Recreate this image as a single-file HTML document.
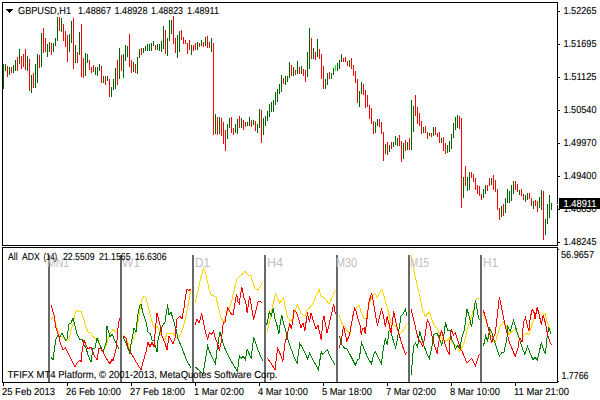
<!DOCTYPE html><html><head><meta charset="utf-8"><style>
html,body{margin:0;padding:0;background:#fff;width:600px;height:400px;overflow:hidden}
svg{display:block}
text{font-family:"Liberation Sans", sans-serif;fill:#000;text-rendering:geometricPrecision}
</style></head><body>
<svg width="600" height="400" viewBox="0 0 600 400">
<rect x="0" y="0" width="600" height="400" fill="#fff"/>
<g shape-rendering="crispEdges">
<path fill="#006400" d="M3 64h1v25h-1zM5 64h1v7h-1zM9 67h1v8h-1zM13 65h1v8h-1zM15 60h1v11h-1zM19 49h1v15h-1zM27 56h1v15h-1zM31 75h1v18h-1zM35 64h1v24h-1zM37 54h1v29h-1zM41 33h1v34h-1zM47 44h1v13h-1zM49 42h1v10h-1zM53 43h1v9h-1zM55 38h1v8h-1zM57 17h1v24h-1zM61 18h1v14h-1zM69 34h1v18h-1zM71 21h1v22h-1zM75 45h1v18h-1zM79 32h1v23h-1zM85 53h1v23h-1zM87 54h1v9h-1zM95 67h1v8h-1zM97 67h1v9h-1zM99 64h1v7h-1zM103 76h1v7h-1zM107 76h1v5h-1zM111 87h1v10h-1zM113 79h1v11h-1zM115 68h1v21h-1zM119 48h1v31h-1zM123 54h1v24h-1zM125 45h1v16h-1zM127 46h1v11h-1zM133 62h1v10h-1zM137 57h1v17h-1zM139 49h1v9h-1zM143 48h1v5h-1zM145 46h1v5h-1zM147 44h1v7h-1zM149 44h1v7h-1zM151 43h1v8h-1zM153 41h1v5h-1zM157 44h1v6h-1zM159 44h1v7h-1zM161 41h1v11h-1zM163 26h1v23h-1zM167 38h1v18h-1zM169 20h1v21h-1zM171 20h1v14h-1zM177 35h1v23h-1zM179 31h1v21h-1zM191 45h1v10h-1zM197 42h1v8h-1zM201 40h1v6h-1zM205 37h1v9h-1zM211 38h1v14h-1zM215 114h1v20h-1zM219 117h1v17h-1zM227 124h1v15h-1zM229 118h1v10h-1zM235 124h1v9h-1zM237 119h1v15h-1zM241 118h1v10h-1zM247 122h1v4h-1zM249 117h1v9h-1zM253 120h1v5h-1zM257 124h1v9h-1zM259 109h1v19h-1zM263 118h1v17h-1zM265 116h1v10h-1zM267 111h1v10h-1zM269 104h1v13h-1zM271 102h1v10h-1zM273 100h1v12h-1zM275 92h1v13h-1zM277 89h1v13h-1zM279 84h1v10h-1zM281 75h1v17h-1zM285 76h1v9h-1zM287 76h1v6h-1zM289 62h1v16h-1zM293 67h1v9h-1zM297 61h1v13h-1zM301 66h1v8h-1zM307 52h1v25h-1zM309 28h1v41h-1zM313 48h1v11h-1zM317 39h1v18h-1zM325 79h1v10h-1zM327 73h1v12h-1zM331 73h1v6h-1zM333 68h1v7h-1zM337 63h1v8h-1zM339 60h1v9h-1zM341 54h1v8h-1zM349 60h1v7h-1zM359 91h1v16h-1zM361 82h1v12h-1zM375 122h1v11h-1zM377 119h1v7h-1zM385 144h1v10h-1zM389 145h1v7h-1zM393 142h1v5h-1zM395 136h1v9h-1zM397 138h1v8h-1zM403 143h1v16h-1zM407 142h1v8h-1zM411 100h1v50h-1zM413 106h1v26h-1zM423 127h1v6h-1zM429 133h1v3h-1zM433 127h1v9h-1zM441 138h1v5h-1zM447 145h1v8h-1zM449 141h1v11h-1zM451 134h1v15h-1zM453 123h1v15h-1zM455 117h1v13h-1zM457 115h1v13h-1zM463 177h1v21h-1zM467 177h1v14h-1zM469 172h1v18h-1zM483 189h1v9h-1zM485 185h1v9h-1zM491 178h1v7h-1zM501 206h1v11h-1zM505 198h1v15h-1zM507 189h1v14h-1zM509 191h1v12h-1zM511 185h1v16h-1zM513 181h1v13h-1zM519 190h1v5h-1zM525 195h1v7h-1zM527 193h1v7h-1zM533 201h1v8h-1zM539 197h1v11h-1zM541 190h1v20h-1zM545 219h1v16h-1zM547 204h1v20h-1zM549 195h1v23h-1zM551 203h1v7h-1z"/>
<path fill="#ff0000" d="M7 66h1v11h-1zM11 67h1v6h-1zM17 57h1v14h-1zM21 56h1v13h-1zM23 54h1v13h-1zM25 49h1v21h-1zM29 59h1v32h-1zM33 73h1v15h-1zM39 55h1v13h-1zM43 28h1v25h-1zM45 38h1v14h-1zM51 43h1v12h-1zM59 17h1v14h-1zM63 24h1v17h-1zM65 31h1v16h-1zM67 35h1v27h-1zM73 18h1v51h-1zM77 52h1v11h-1zM81 24h1v53h-1zM83 58h1v20h-1zM89 60h1v10h-1zM91 67h1v6h-1zM93 65h1v7h-1zM101 66h1v17h-1zM105 76h1v9h-1zM109 79h1v18h-1zM117 60h1v25h-1zM121 55h1v16h-1zM129 34h1v33h-1zM131 60h1v13h-1zM135 64h1v9h-1zM141 48h1v7h-1zM155 45h1v5h-1zM165 30h1v24h-1zM173 16h1v28h-1zM175 38h1v15h-1zM181 30h1v10h-1zM183 37h1v7h-1zM185 40h1v4h-1zM187 43h1v11h-1zM189 40h1v10h-1zM193 45h1v6h-1zM195 43h1v7h-1zM199 43h1v4h-1zM203 42h1v5h-1zM207 36h1v12h-1zM209 42h1v6h-1zM213 43h1v92h-1zM217 117h1v18h-1zM221 118h1v18h-1zM223 122h1v22h-1zM225 130h1v21h-1zM231 117h1v16h-1zM233 128h1v7h-1zM239 116h1v12h-1zM243 120h1v10h-1zM245 122h1v5h-1zM251 120h1v7h-1zM255 121h1v10h-1zM261 110h1v33h-1zM283 78h1v6h-1zM291 65h1v11h-1zM295 70h1v5h-1zM299 67h1v7h-1zM303 69h1v7h-1zM305 70h1v12h-1zM311 38h1v21h-1zM315 52h1v8h-1zM319 49h1v10h-1zM321 54h1v25h-1zM323 66h1v23h-1zM329 72h1v7h-1zM343 58h1v4h-1zM345 57h1v5h-1zM347 61h1v5h-1zM351 58h1v11h-1zM353 65h1v11h-1zM355 71h1v12h-1zM357 79h1v24h-1zM363 84h1v11h-1zM365 90h1v18h-1zM367 95h1v12h-1zM369 105h1v14h-1zM371 108h1v16h-1zM373 121h1v13h-1zM379 119h1v8h-1zM381 122h1v12h-1zM383 132h1v29h-1zM387 142h1v13h-1zM391 142h1v7h-1zM399 135h1v11h-1zM401 141h1v21h-1zM405 140h1v11h-1zM409 138h1v12h-1zM415 95h1v21h-1zM417 107h1v17h-1zM419 113h1v13h-1zM421 121h1v13h-1zM425 126h1v7h-1zM427 132h1v7h-1zM431 133h1v4h-1zM435 127h1v8h-1zM437 133h1v4h-1zM439 132h1v11h-1zM443 137h1v14h-1zM445 143h1v11h-1zM459 116h1v13h-1zM461 118h1v90h-1zM465 166h1v20h-1zM471 172h1v6h-1zM473 174h1v8h-1zM475 178h1v12h-1zM477 185h1v9h-1zM479 186h1v10h-1zM481 194h1v6h-1zM487 185h1v6h-1zM489 178h1v8h-1zM493 175h1v15h-1zM495 180h1v12h-1zM497 189h1v21h-1zM499 208h1v12h-1zM503 204h1v12h-1zM515 181h1v9h-1zM517 184h1v8h-1zM521 189h1v7h-1zM523 194h1v6h-1zM529 193h1v6h-1zM531 198h1v8h-1zM535 200h1v6h-1zM537 201h1v11h-1zM543 191h1v49h-1z"/>
<path fill="#00ff00" d="M335 65h1v6h-1z"/>
</g>
<g fill="#696969" shape-rendering="crispEdges">
<rect x="48" y="255" width="2" height="127"/>
<rect x="120" y="255" width="2" height="127"/>
<rect x="192" y="255" width="2" height="127"/>
<rect x="264" y="255" width="2" height="127"/>
<rect x="336" y="255" width="2" height="127"/>
<rect x="408" y="255" width="2" height="127"/>
<rect x="480" y="255" width="2" height="127"/>
</g>
<g fill="none" stroke-width="1" shape-rendering="crispEdges">
<polyline stroke="#ffd700" points="51.0,320.0 54.0,316.0 56.0,325.0 59.0,334.0 62.0,337.0 64.0,338.0 66.0,341.0 68.0,340.0 69.0,339.0 71.0,331.0 73.0,324.0 75.0,314.0 77.0,310.0 79.0,312.0 81.0,311.0 84.0,320.0 86.0,327.0 88.0,332.0 91.0,333.0 92.0,335.0 95.0,339.0 97.0,340.0 98.0,338.0 99.0,344.0 103.0,352.0 105.0,348.0 107.0,343.0 108.0,339.0 110.0,334.0 113.0,329.0 116.0,333.0 118.0,331.0"/>
<polyline stroke="#008000" points="51.0,357.0 53.0,360.0 54.5,348.0 56.0,339.0 58.0,335.0 60.0,337.0 62.0,333.0 64.0,337.0 65.5,340.0 67.0,339.0 69.0,324.0 71.0,323.0 73.0,318.0 75.0,326.0 77.0,334.0 80.0,340.0 82.0,339.0 84.0,345.0 86.0,348.0 88.0,355.0 91.0,362.0 93.0,348.0 95.0,348.0 97.0,338.0 99.0,343.0 103.0,352.0 106.0,343.0 107.0,326.0 110.0,337.0 112.0,334.0 115.0,341.0 116.0,343.0 119.0,349.0"/>
<polyline stroke="#ff0000" points="51.0,305.0 54.0,315.0 56.0,328.0 59.0,337.0 60.0,342.0 63.0,350.0 65.5,348.0 68.0,353.0 72.0,361.0 75.0,367.0 77.0,363.0 80.0,360.0 81.0,362.0 82.0,352.0 84.0,340.0 86.0,345.0 88.0,349.0 91.0,347.0 94.0,355.0 97.0,360.0 99.0,348.0 101.0,349.0 103.0,352.0 106.0,358.0 110.0,364.0 112.0,359.0 113.0,361.0 116.0,349.0 117.0,340.0 118.0,328.0 119.5,318.0"/>
<polyline stroke="#ffd700" points="123.0,335.0 126.0,339.0 130.0,348.0 132.0,342.0 135.0,335.0 136.0,332.0 138.0,322.0 140.0,310.0 142.0,300.0 144.0,296.0 146.0,298.0 148.0,306.0 150.5,316.0 153.0,325.0 155.0,329.0 157.0,326.0 160.0,332.0 162.0,337.0 165.0,340.0 167.0,333.0 170.0,334.0 173.0,333.0 175.0,336.0 178.0,339.0 180.0,335.0 183.0,328.0 186.0,316.0 187.2,310.0 189.0,300.0 191.0,289.0"/>
<polyline stroke="#008000" points="123.0,337.0 126.0,343.0 130.0,354.0 131.0,344.0 133.0,334.0 134.0,328.0 136.0,332.0 137.5,317.0 139.5,306.0 141.0,304.0 143.0,313.0 146.0,322.0 148.0,332.0 150.5,334.0 152.0,340.0 154.0,341.0 157.0,352.0 158.0,340.0 160.0,332.0 163.0,325.0 165.0,322.0 167.0,309.0 167.5,304.0 169.0,315.0 171.0,312.0 173.0,319.0 176.0,329.0 178.0,339.0 182.0,348.0 186.0,359.0 191.0,368.0"/>
<polyline stroke="#ff0000" points="123.0,336.0 126.0,338.0 128.0,347.0 131.0,353.0 135.0,360.0 138.0,365.0 141.0,370.0 143.0,362.0 146.0,352.0 148.0,342.0 150.0,347.0 152.0,342.0 154.0,347.0 155.0,334.0 157.0,313.0 160.0,325.0 162.0,336.0 165.0,343.0 167.0,350.0 169.0,336.0 171.0,340.0 173.0,344.0 175.0,338.0 177.0,319.0 180.0,316.0 182.0,319.0 184.0,308.0 185.0,300.0 187.0,289.0 189.0,291.0 190.5,289.0"/>
<polyline stroke="#ffd700" points="195.0,303.0 197.6,293.0 200.0,281.0 202.0,274.0 203.4,268.0 205.4,272.0 207.3,281.0 209.3,290.5 211.0,295.0 214.0,296.0 216.0,297.0 218.0,306.0 221.0,318.0 224.0,322.0 226.0,316.0 229.0,309.0 232.0,300.0 234.6,288.0 237.0,279.0 240.0,276.0 242.4,274.0 245.0,271.0 247.6,275.0 251.0,276.0 253.0,283.0 255.0,288.0 257.6,290.0 260.0,287.0 262.5,282.0"/>
<polyline stroke="#008000" points="195.0,367.0 199.0,370.0 203.0,374.0 204.3,366.0 207.6,346.0 210.8,354.5 215.4,363.6 217.3,348.0 219.9,332.0 221.9,339.0 223.8,345.5 226.4,352.0 231.6,362.0 237.5,371.4 239.4,356.0 241.4,358.4 243.0,356.0 245.3,359.7 247.2,349.3 251.1,358.4 253.7,337.6 255.7,343.0 258.0,350.0 262.8,361.0"/>
<polyline stroke="#ff0000" points="195.0,325.0 197.0,319.5 199.0,323.0 201.7,314.0 203.7,323.0 205.6,332.5 207.6,339.0 209.5,332.5 211.5,334.5 213.4,331.0 215.4,338.0 217.3,343.0 219.3,350.0 221.2,342.0 223.2,323.0 225.0,322.0 226.4,314.0 227.7,308.0 229.0,310.0 230.3,313.0 233.0,315.0 234.2,308.0 235.5,300.0 236.6,294.0 238.0,302.0 239.2,303.5 241.8,287.0 243.7,297.0 245.7,302.0 247.2,313.0 249.6,296.0 251.0,304.0 253.7,319.5 256.3,309.0 258.0,302.0 260.2,301.0 262.2,303.0"/>
<polyline stroke="#ffd700" points="267.2,332.0 269.2,323.0 270.5,318.0 271.9,309.0 273.9,301.0 275.5,294.0 277.8,298.6 279.7,303.0 281.7,300.6 283.6,298.0 285.6,307.7 287.5,317.0 289.5,320.0 291.4,321.0 293.4,314.0 295.3,310.0 297.3,304.5 299.2,309.0 301.2,313.6 303.1,315.0 305.7,315.0 307.0,310.0 309.6,308.0 312.2,304.5 314.8,299.0 317.4,293.0 319.0,289.5 321.3,296.7 323.9,297.3 326.5,301.0 329.1,304.0 330.0,302.0 332.6,295.6 335.5,290.0"/>
<polyline stroke="#008000" points="266.5,325.0 267.2,323.0 269.3,312.0 271.3,315.5 273.2,308.0 275.0,319.0 277.0,325.4 278.9,334.0 280.2,323.0 281.7,315.0 283.5,323.0 285.4,329.0 288.0,340.0 290.6,347.5 293.9,356.6 297.1,363.0 299.7,343.5 302.3,347.5 304.9,352.7 307.5,359.0 309.5,353.3 312.1,358.0 314.7,363.0 318.5,369.5 321.2,351.6 322.5,354.5 324.0,353.0 327.3,349.4 329.6,355.3 332.2,360.0 334.8,364.4"/>
<polyline stroke="#ff0000" points="267.2,358.0 271.0,363.0 275.0,370.0 277.6,348.0 280.2,354.0 282.8,361.5 284.8,344.0 286.7,337.0 288.7,328.0 290.0,323.5 291.3,328.7 293.2,317.6 294.0,310.0 296.0,311.6 298.4,317.6 301.0,328.0 303.0,322.8 304.9,330.6 306.9,316.0 307.5,314.0 309.5,321.5 311.0,313.0 312.5,318.0 314.0,322.8 316.0,329.0 317.9,325.0 321.2,339.7 323.1,319.0 324.0,316.0 327.0,333.0 329.6,323.0 330.0,320.0 332.0,312.5 333.6,304.0 335.5,314.5"/>
<polyline stroke="#ffd700" points="339.1,315.0 341.7,323.0 343.0,325.0 344.3,326.0 346.9,330.5 350.2,333.5 351.5,323.0 354.1,311.0 356.7,307.0 359.3,305.4 361.2,312.5 363.8,317.7 365.8,319.0 367.7,310.0 369.7,303.0 372.3,295.0 374.9,293.7 377.5,297.0 379.4,293.0 381.8,289.0 384.0,295.6 386.6,306.0 388.5,312.0 390.5,321.6 392.4,325.5 395.0,325.5 397.6,330.0 398.9,334.0 400.2,333.0 402.2,332.0 405.4,326.3 406.7,323.0"/>
<polyline stroke="#008000" points="338.7,336.0 339.8,337.0 341.7,344.5 344.3,348.0 346.9,349.0 350.8,356.0 355.4,365.3 357.3,360.0 359.3,358.8 361.5,342.6 363.8,348.4 367.7,357.5 371.4,364.0 373.6,355.0 375.5,351.7 378.1,357.5 381.4,363.4 383.3,349.0 385.3,338.7 387.2,344.5 389.2,330.0 391.0,332.0 393.7,342.0 395.7,347.8 397.6,338.0 398.9,330.0 399.5,327.0 400.9,316.4 402.8,314.5 405.4,309.3 407.0,316.0"/>
<polyline stroke="#ff0000" points="339.1,348.0 341.1,342.0 343.0,329.0 343.5,326.0 346.9,341.0 349.5,335.0 350.2,331.0 352.8,316.4 354.7,308.6 356.0,311.0 358.0,319.0 360.6,327.0 361.2,335.0 362.5,329.0 364.5,328.0 365.1,334.0 367.1,317.7 369.0,302.0 371.6,293.0 373.6,303.4 375.5,315.0 377.5,325.5 379.4,317.7 381.4,309.3 383.3,315.0 385.3,327.0 387.2,316.4 389.2,324.2 389.8,327.6 391.1,332.8 393.7,311.0 395.7,321.6 397.6,330.0 400.2,338.0 402.8,347.0 405.4,354.3 406.5,352.0"/>
<polyline stroke="#ffd700" points="411.0,255.0 413.0,265.4 415.0,275.8 417.6,287.5 420.2,298.0 422.8,310.4 425.4,316.3 429.3,312.4 431.9,319.5 434.5,326.7 437.1,328.0 439.7,334.5 442.3,339.0 444.9,341.6 447.5,340.3 450.1,337.1 452.1,342.9 454.7,344.9 457.3,348.1 459.5,351.0 461.0,350.0 464.4,342.0 467.0,330.0 469.6,322.0 472.2,314.3 474.8,305.2 476.1,299.2 478.7,298.0"/>
<polyline stroke="#008000" points="411.1,375.0 411.8,367.5 413.0,353.0 413.7,345.4 415.7,343.0 417.6,347.0 418.9,337.0 419.6,330.6 421.5,337.7 423.5,344.5 426.7,353.0 429.3,358.4 431.3,350.0 433.9,334.5 437.1,333.2 439.7,339.7 441.7,345.0 443.5,338.0 445.6,322.0 447.5,330.0 450.1,330.0 451.4,339.0 454.0,344.2 455.3,349.0 457.9,345.4 459.9,349.0 461.8,337.7 464.4,330.0 467.0,309.0 469.6,318.0 471.6,327.3 473.5,313.0 475.5,300.0 478.1,315.6 479.4,320.0"/>
<polyline stroke="#ff0000" points="411.1,309.0 413.7,319.5 416.3,331.0 418.3,339.0 420.2,341.6 422.8,346.8 424.8,337.7 427.4,319.0 430.0,326.0 432.6,339.0 435.2,348.0 437.1,353.0 439.7,336.4 441.7,330.6 443.6,339.0 446.2,348.0 449.5,355.0 450.1,337.7 451.4,329.3 453.4,335.0 455.3,332.5 457.9,340.3 460.5,349.4 461.8,350.6 467.0,363.0 471.6,358.4 475.5,365.6 478.7,356.0 479.5,354.0"/>
<polyline stroke="#ffd700" points="483.5,313.4 486.3,321.6 489.0,330.0 491.8,336.8 494.5,342.3 495.2,342.6 497.3,335.4 500.0,327.0 503.4,321.6 506.2,326.5 509.0,334.7 512.4,331.3 515.1,329.2 517.9,334.0 520.6,341.6 522.0,342.0 523.4,335.4 526.1,333.3 528.9,334.7 531.6,325.8 534.4,317.5 537.1,309.3 540.6,314.0 543.3,314.8 545.4,314.0 547.5,323.0 550.2,330.0"/>
<polyline stroke="#008000" points="483.5,346.0 485.6,336.0 487.6,341.0 489.7,328.5 491.8,332.6 493.8,339.0 495.9,346.0 499.3,356.3 502.1,352.2 504.0,352.0 506.9,339.0 507.6,326.0 510.3,331.3 513.5,320.3 515.8,327.8 518.6,336.8 520.6,343.3 524.8,354.3 527.5,346.7 533.0,359.8 535.0,357.0 537.1,360.4 541.3,343.3 545.4,354.3 546.8,339.0 548.8,327.0 550.9,334.0"/>
<polyline stroke="#ff0000" points="483.2,310.0 485.6,317.5 487.6,325.8 489.7,334.0 491.8,343.0 493.1,338.0 495.2,334.0 497.3,315.0 499.3,297.0 501.4,306.5 503.4,317.5 505.5,327.0 507.6,335.4 509.6,343.0 511.0,346.0 515.1,356.3 517.9,349.0 519.3,339.5 520.0,338.0 521.3,341.0 522.0,342.0 523.4,323.0 525.5,317.5 527.5,325.8 528.9,331.3 530.3,317.5 532.3,309.3 533.7,310.6 535.1,319.0 537.1,307.2 539.2,314.8 541.3,324.4 543.3,314.8 545.4,323.0 547.5,334.0 549.5,340.5 551.6,345.3"/>
</g>
<g style="font-size:13px" fill="#c0c0c0">
<text x="47" y="267" textLength="22" lengthAdjust="spacingAndGlyphs" style="fill:#c0c0c0">MN1</text>
<text x="122" y="267" textLength="18" lengthAdjust="spacingAndGlyphs" style="fill:#c0c0c0">W1</text>
<text x="195" y="267" textLength="15" lengthAdjust="spacingAndGlyphs" style="fill:#c0c0c0">D1</text>
<text x="267" y="267" textLength="16" lengthAdjust="spacingAndGlyphs" style="fill:#c0c0c0">H4</text>
<text x="336" y="267" textLength="21" lengthAdjust="spacingAndGlyphs" style="fill:#c0c0c0">M30</text>
<text x="410" y="267" textLength="19" lengthAdjust="spacingAndGlyphs" style="fill:#c0c0c0">M15</text>
<text x="483" y="267" textLength="15" lengthAdjust="spacingAndGlyphs" style="fill:#c0c0c0">H1</text>
</g>
<g fill="#000" shape-rendering="crispEdges">
<rect x="2" y="2" width="556" height="1"/>
<rect x="2" y="2" width="1" height="244"/>
<rect x="557" y="2" width="1" height="244"/>
<rect x="2" y="245" width="556" height="1"/>
<rect x="2" y="247" width="556" height="1"/>
<rect x="2" y="247" width="1" height="136"/>
<rect x="557" y="247" width="1" height="136"/>
<rect x="2" y="382" width="556" height="1"/>
<rect x="558" y="11" width="2" height="1"/>
<rect x="558" y="44" width="2" height="1"/>
<rect x="558" y="77" width="2" height="1"/>
<rect x="558" y="110" width="2" height="1"/>
<rect x="558" y="143" width="2" height="1"/>
<rect x="558" y="176" width="2" height="1"/>
<rect x="558" y="209" width="2" height="1"/>
<rect x="558" y="242" width="2" height="1"/>
<rect x="558" y="249" width="1" height="1"/>
<rect x="557" y="204" width="1" height="1" fill="#fff"/>
<rect x="558" y="381" width="1" height="1"/>
<rect x="3" y="383" width="1" height="3"/>
<rect x="67" y="383" width="1" height="3"/>
<rect x="131" y="383" width="1" height="3"/>
<rect x="195" y="383" width="1" height="3"/>
<rect x="259" y="383" width="1" height="3"/>
<rect x="323" y="383" width="1" height="3"/>
<rect x="387" y="383" width="1" height="3"/>
<rect x="451" y="383" width="1" height="3"/>
<rect x="515" y="383" width="1" height="3"/>
<path d="M6 9h7v1h-1v1h-1v1h-1v1h-1v-1h-1v-1h-1v-1h-1z"/>
</g>
<text x="18" y="14" textLength="53" lengthAdjust="spacingAndGlyphs" style="font-size:10.2px;fill:#000;stroke:#000;stroke-width:0.1px">GBPUSD,H1</text>
<text x="78" y="14" textLength="33" lengthAdjust="spacingAndGlyphs" style="font-size:10.2px;fill:#000;stroke:#000;stroke-width:0.1px">1.48867</text>
<text x="114.5" y="14" textLength="33" lengthAdjust="spacingAndGlyphs" style="font-size:10.2px;fill:#000;stroke:#000;stroke-width:0.1px">1.48928</text>
<text x="151" y="14" textLength="32" lengthAdjust="spacingAndGlyphs" style="font-size:10.2px;fill:#000;stroke:#000;stroke-width:0.1px">1.48823</text>
<text x="187" y="14" textLength="32" lengthAdjust="spacingAndGlyphs" style="font-size:10.2px;fill:#000;stroke:#000;stroke-width:0.1px">1.48911</text>
<text x="563.5" y="14" textLength="33" lengthAdjust="spacingAndGlyphs" style="font-size:10.2px;fill:#000;stroke:#000;stroke-width:0.1px">1.52265</text>
<text x="563.5" y="47" textLength="33" lengthAdjust="spacingAndGlyphs" style="font-size:10.2px;fill:#000;stroke:#000;stroke-width:0.1px">1.51695</text>
<text x="563.5" y="80" textLength="33" lengthAdjust="spacingAndGlyphs" style="font-size:10.2px;fill:#000;stroke:#000;stroke-width:0.1px">1.51125</text>
<text x="563.5" y="113" textLength="33" lengthAdjust="spacingAndGlyphs" style="font-size:10.2px;fill:#000;stroke:#000;stroke-width:0.1px">1.50540</text>
<text x="563.5" y="146" textLength="33" lengthAdjust="spacingAndGlyphs" style="font-size:10.2px;fill:#000;stroke:#000;stroke-width:0.1px">1.49970</text>
<text x="563.5" y="179" textLength="33" lengthAdjust="spacingAndGlyphs" style="font-size:10.2px;fill:#000;stroke:#000;stroke-width:0.1px">1.49400</text>
<text x="563.5" y="212" textLength="33" lengthAdjust="spacingAndGlyphs" style="font-size:10.2px;fill:#000;stroke:#000;stroke-width:0.1px">1.48830</text>
<text x="563.5" y="245" textLength="33" lengthAdjust="spacingAndGlyphs" style="font-size:10.2px;fill:#000;stroke:#000;stroke-width:0.1px">1.48245</text>
<rect x="559" y="198" width="41" height="11" fill="#000" shape-rendering="crispEdges"/>
<text x="563.5" y="207" textLength="33" lengthAdjust="spacingAndGlyphs" style="font-size:10.2px;fill:#fff;stroke:#fff;stroke-width:0.1px">1.48911</text>
<text x="8" y="260" textLength="9.6" lengthAdjust="spacingAndGlyphs" style="font-size:10.2px;fill:#000;stroke:#000;stroke-width:0.1px">All</text>
<text x="22" y="260" textLength="17.6" lengthAdjust="spacingAndGlyphs" style="font-size:10.2px;fill:#000;stroke:#000;stroke-width:0.1px">ADX</text>
<text x="43.5" y="260" textLength="13.6" lengthAdjust="spacingAndGlyphs" style="font-size:10.2px;fill:#000;stroke:#000;stroke-width:0.1px">(14)</text>
<text x="63" y="260" textLength="31.5" lengthAdjust="spacingAndGlyphs" style="font-size:10.2px;fill:#000;stroke:#000;stroke-width:0.1px">22.5509</text>
<text x="99" y="260" textLength="31.5" lengthAdjust="spacingAndGlyphs" style="font-size:10.2px;fill:#000;stroke:#000;stroke-width:0.1px">21.1565</text>
<text x="135" y="260" textLength="31.5" lengthAdjust="spacingAndGlyphs" style="font-size:10.2px;fill:#000;stroke:#000;stroke-width:0.1px">16.6306</text>
<text x="561" y="258" textLength="33" lengthAdjust="spacingAndGlyphs" style="font-size:10.2px;fill:#000;stroke:#000;stroke-width:0.1px">56.9657</text>
<text x="561.5" y="379" textLength="27" lengthAdjust="spacingAndGlyphs" style="font-size:10.2px;fill:#000;stroke:#000;stroke-width:0.1px">1.7766</text>
<text x="7.5" y="378" textLength="270" lengthAdjust="spacingAndGlyphs" style="font-size:10.2px;fill:#000;stroke:#000;stroke-width:0.1px">TFIFX MT4 Platform, © 2001-2013, MetaQuotes Software Corp.</text>
<text x="2" y="395" textLength="53" lengthAdjust="spacingAndGlyphs" style="font-size:10.2px;fill:#000;stroke:#000;stroke-width:0.1px">25 Feb 2013</text>
<text x="66" y="395" textLength="55" lengthAdjust="spacingAndGlyphs" style="font-size:10.2px;fill:#000;stroke:#000;stroke-width:0.1px">26 Feb 10:00</text>
<text x="130" y="395" textLength="55" lengthAdjust="spacingAndGlyphs" style="font-size:10.2px;fill:#000;stroke:#000;stroke-width:0.1px">27 Feb 18:00</text>
<text x="194" y="395" textLength="50" lengthAdjust="spacingAndGlyphs" style="font-size:10.2px;fill:#000;stroke:#000;stroke-width:0.1px">1 Mar 02:00</text>
<text x="258" y="395" textLength="50" lengthAdjust="spacingAndGlyphs" style="font-size:10.2px;fill:#000;stroke:#000;stroke-width:0.1px">4 Mar 10:00</text>
<text x="322" y="395" textLength="50" lengthAdjust="spacingAndGlyphs" style="font-size:10.2px;fill:#000;stroke:#000;stroke-width:0.1px">5 Mar 18:00</text>
<text x="386" y="395" textLength="50" lengthAdjust="spacingAndGlyphs" style="font-size:10.2px;fill:#000;stroke:#000;stroke-width:0.1px">7 Mar 02:00</text>
<text x="450" y="395" textLength="50" lengthAdjust="spacingAndGlyphs" style="font-size:10.2px;fill:#000;stroke:#000;stroke-width:0.1px">8 Mar 10:00</text>
<text x="514" y="395" textLength="55" lengthAdjust="spacingAndGlyphs" style="font-size:10.2px;fill:#000;stroke:#000;stroke-width:0.1px">11 Mar 21:00</text>
</svg></body></html>
